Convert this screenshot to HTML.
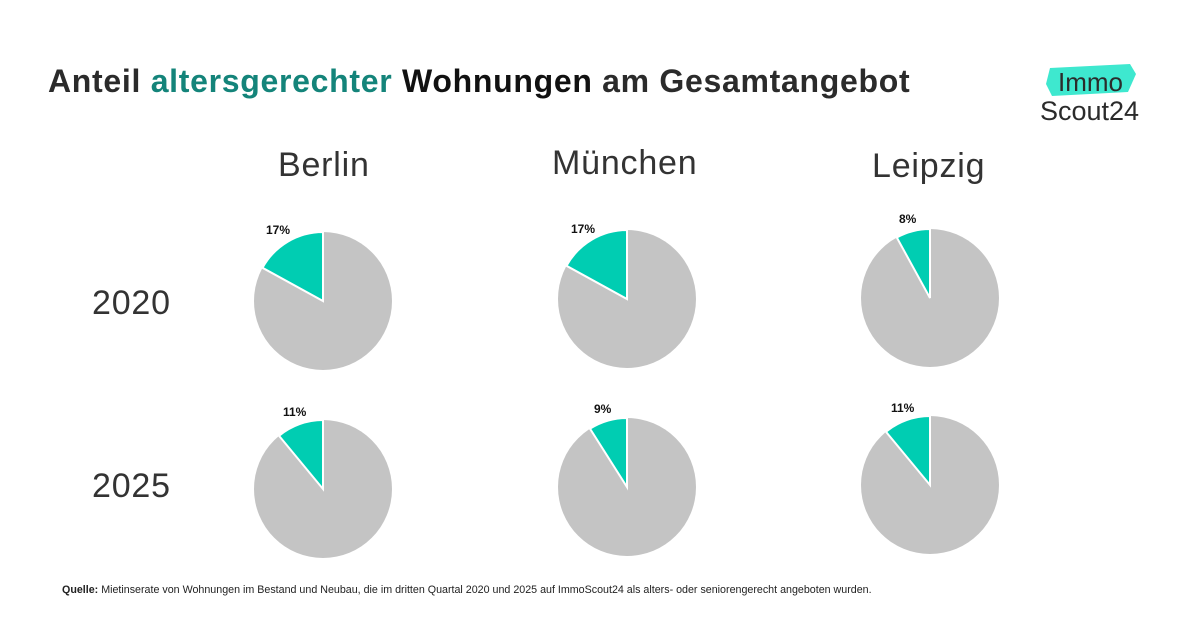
<!DOCTYPE html>
<html><head><meta charset="utf-8"><style>
body{margin:0;width:1200px;height:630px;background:#fff;overflow:hidden;font-family:"Liberation Sans",sans-serif;position:relative}
.t{position:absolute;left:48px;top:63px;font-size:32px;letter-spacing:0.7px;font-weight:bold;color:#2b2b2b;white-space:nowrap}
.t span{color:#14847a}
.t b{color:#111}
.c{position:absolute;font-size:34px;letter-spacing:0.8px;color:#333;white-space:nowrap}
.src{position:absolute;left:62px;top:584px;font-size:10.7px;color:#222;white-space:nowrap}
</style></head><body>
<div class="t">Anteil <span>altersgerechter</span> <b>Wohnungen</b> <span style="color:#2b2b2b">am Gesamtangebot</span></div>
<svg style="position:absolute;left:1030px;top:62px" width="120" height="64">
<polygon points="20,6 100,2 106,12 98,30 22,34 16,22" fill="#3ee8cf"/>
<text x="28" y="29" font-size="26" fill="#2b2b2b" font-family="Liberation Sans">Immo</text>
<text x="10" y="58" font-size="27" fill="#2b2b2b" font-family="Liberation Sans">Scout24</text>
</svg>
<div class="c" style="left:278px;top:146px">Berlin</div>
<div class="c" style="left:552px;top:144px">München</div>
<div class="c" style="left:872px;top:147px">Leipzig</div>
<div class="c" style="left:92px;top:284px">2020</div>
<div class="c" style="left:92px;top:467px">2025</div>
<svg style="position:absolute;left:0;top:0" width="1200" height="630" font-family="Liberation Sans" font-weight="bold" font-size="12" fill="#111">
<g stroke="#fff" stroke-width="2">
<circle cx="323" cy="301" r="69" fill="#c4c4c4" stroke="none"/>
<path d="M323,301 L323,232 A69,69 0 0 0 262.5,267.8 Z" fill="#00cdb2"/>
<circle cx="627" cy="299" r="69" fill="#c4c4c4" stroke="none"/>
<path d="M627,299 L627,230 A69,69 0 0 0 566.5,265.8 Z" fill="#00cdb2"/>
<circle cx="930" cy="298" r="69" fill="#c4c4c4" stroke="none"/>
<path d="M930,298 L930,229 A69,69 0 0 0 896.8,237.5 Z" fill="#00cdb2"/>
<circle cx="323" cy="489" r="69" fill="#c4c4c4" stroke="none"/>
<path d="M323,489 L323,420 A69,69 0 0 0 279,435.8 Z" fill="#00cdb2"/>
<circle cx="627" cy="487" r="69" fill="#c4c4c4" stroke="none"/>
<path d="M627,487 L627,418 A69,69 0 0 0 590,428.7 Z" fill="#00cdb2"/>
<circle cx="930" cy="485" r="69" fill="#c4c4c4" stroke="none"/>
<path d="M930,485 L930,416 A69,69 0 0 0 886,431.8 Z" fill="#00cdb2"/>
</g>
<text x="266" y="234">17%</text>
<text x="571" y="233">17%</text>
<text x="899" y="223">8%</text>
<text x="283" y="416">11%</text>
<text x="594" y="413">9%</text>
<text x="891" y="412">11%</text>
</svg>
<div class="src"><b>Quelle:</b> Mietinserate von Wohnungen im Bestand und Neubau, die im dritten Quartal 2020 und 2025 auf ImmoScout24 als alters- oder seniorengerecht angeboten wurden.</div>
</body></html>
